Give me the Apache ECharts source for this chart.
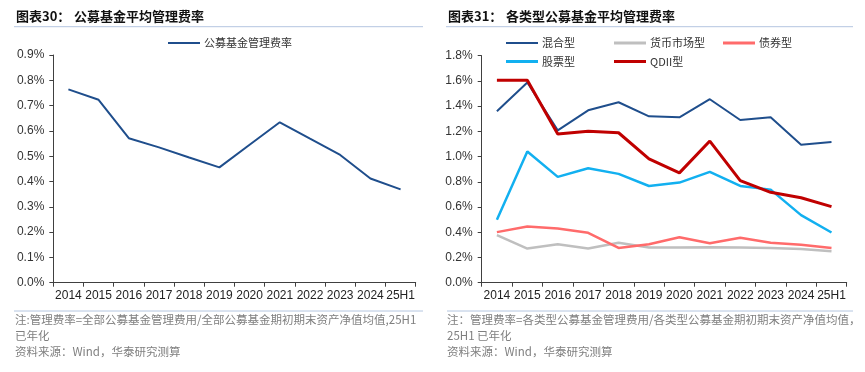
<!DOCTYPE html>
<html>
<head>
<meta charset="utf-8">
<script src="https://cdn.jsdelivr.net/npm/echarts@6/dist/echarts.min.js"></script>
<style>
html,body{margin:0;padding:0;background:#fff;}
#c{width:865px;height:372px;}
</style>
</head>
<body>
<div id="c"></div>
<script>
var categories = ['2014','2015','2016','2017','2018','2019','2020','2021','2022','2023','2024','25H1'];
var avgFee = [0.764,0.723,0.571,0.535,0.495,0.456,0.545,0.634,0.569,0.505,0.412,0.369];
var hunhe = [1.359,1.588,1.208,1.367,1.431,1.319,1.311,1.455,1.290,1.311,1.094,1.115];
var huobi = [0.377,0.271,0.305,0.271,0.316,0.279,0.279,0.281,0.279,0.276,0.268,0.250];
var zhaiquan = [0.401,0.446,0.430,0.396,0.276,0.305,0.361,0.313,0.356,0.316,0.300,0.276];
var gupiao = [0.499,1.041,0.839,0.908,0.863,0.767,0.794,0.879,0.767,0.738,0.536,0.398];
var qdii = [1.606,1.606,1.179,1.200,1.189,0.982,0.871,1.123,0.810,0.717,0.674,0.603];
var leftTicks = {min:0, max:0.9, interval:0.1};
var rightTicks = {min:0, max:1.8, interval:0.2};

var FONT = 'Liberation Sans, Arial, sans-serif';
var CJK = '"Noto Sans CJK SC", sans-serif';
var axisColor = '#404040';

function yAxis(idx, t){
  return {
    type:'value', gridIndex:idx, min:t.min, max:t.max, interval:t.interval,
    axisLine:{show:true, lineStyle:{color:axisColor, width:1}},
    axisTick:{show:true, length:4, lineStyle:{color:axisColor}},
    splitLine:{show:false},
    axisLabel:{color:'#333', fontFamily:FONT, fontSize:12, margin:9,
      formatter:function(v){return v.toFixed(1)+'%';}}
  };
}
function xAxis(idx){
  return {
    type:'category', gridIndex:idx, data:categories, boundaryGap:true,
    axisLine:{show:true, lineStyle:{color:axisColor, width:1}},
    axisTick:{show:true, length:4, alignWithLabel:false, lineStyle:{color:axisColor}},
    axisLabel:{color:'#222', fontFamily:FONT, fontSize:12, margin:7, interval:0}
  };
}
function line(name, data, color, width, idx){
  return {name:name, type:'line', xAxisIndex:idx, yAxisIndex:idx, data:data,
    symbol:'none', smooth:false, lineStyle:{color:color, width:width}, itemStyle:{color:color}};
}
function legend(name, left, top, h){
  return {data:[name], left:left, top:top, icon:'rect', itemWidth:32, itemHeight:h,
    itemGap:0, padding:0, textStyle:{fontFamily:CJK, fontSize:11, color:'#333', padding:[0,0,0,-1]}};
}

var gCol = '#B4C6E0';
var noteColor = '#7f7f7f';
var noteFont = '11.5px '+CJK;
var option = {
  animation:false,
  backgroundColor:'#fff',
  grid:[
    {left:53.3, right:449.3, top:55, bottom:89.3},
    {left:481.7, right:18.3, top:55.7, bottom:89.3}
  ],
  xAxis:[xAxis(0), xAxis(1)],
  yAxis:[yAxis(0,leftTicks), yAxis(1,rightTicks)],
  legend:[
    legend('公募基金管理费率', 168, 37.5, 2),
    legend('混合型', 506, 37.5, 2),
    legend('货币市场型', 614, 37.5, 3),
    legend('债券型', 723, 37.5, 3),
    legend('股票型', 506, 56, 3),
    legend('QDII型', 614, 56, 3)
  ],
  series:[
    line('公募基金管理费率', avgFee, '#1F4E8C', 2, 0),
    line('混合型', hunhe, '#1F4E8C', 2, 1),
    line('货币市场型', huobi, '#BFBFBF', 2.5, 1),
    line('债券型', zhaiquan, '#FF6B6B', 2.5, 1),
    line('股票型', gupiao, '#12B0F0', 2.5, 1),
    line('QDII型', qdii, '#C00000', 3, 1)
  ],
  graphic:[
    {type:'text', left:16, top:10, style:{text:'图表30：', font:'bold 13px '+CJK, fill:'#111'}},
    {type:'text', left:74, top:10, style:{text:'公募基金平均管理费率', font:'bold 13px '+CJK, fill:'#111'}},
    {type:'line', shape:{x1:14, y1:26.7, x2:423, y2:26.7}, style:{stroke:gCol, lineWidth:1}},
    {type:'text', left:448, top:10, style:{text:'图表31：', font:'bold 13px '+CJK, fill:'#111'}},
    {type:'text', left:506, top:10, style:{text:'各类型公募基金平均管理费率', font:'bold 13px '+CJK, fill:'#111'}},
    {type:'line', shape:{x1:446, y1:26.7, x2:853, y2:26.7}, style:{stroke:gCol, lineWidth:1}},

    {type:'line', shape:{x1:14, y1:311, x2:423, y2:311}, style:{stroke:gCol, lineWidth:1}},
    {type:'line', shape:{x1:447, y1:311, x2:853, y2:311}, style:{stroke:gCol, lineWidth:1}},
    {type:'text', left:15, top:314, style:{text:'注:管理费率=全部公募基金管理费用/全部公募基金期初期末资产净值均值,25H1', font:noteFont, fill:noteColor}},
    {type:'text', left:15, top:330, style:{text:'已年化', font:noteFont, fill:noteColor}},
    {type:'text', left:15, top:346, style:{text:'资料来源：Wind，华泰研究测算', font:noteFont, fill:noteColor}},
    {type:'text', left:447, top:314, style:{text:'注：管理费率=各类型公募基金管理费用/各类型公募基金期初期末资产净值均值，', font:noteFont, fill:noteColor}},
    {type:'text', left:447, top:330, style:{text:'25H1 已年化', font:noteFont, fill:noteColor}},
    {type:'text', left:447, top:346, style:{text:'资料来源：Wind，华泰研究测算', font:noteFont, fill:noteColor}}
  ]
};
var chart = echarts.init(document.getElementById('c'), null, {renderer:'canvas'});
chart.setOption(option);
</script>
</body>
</html>
